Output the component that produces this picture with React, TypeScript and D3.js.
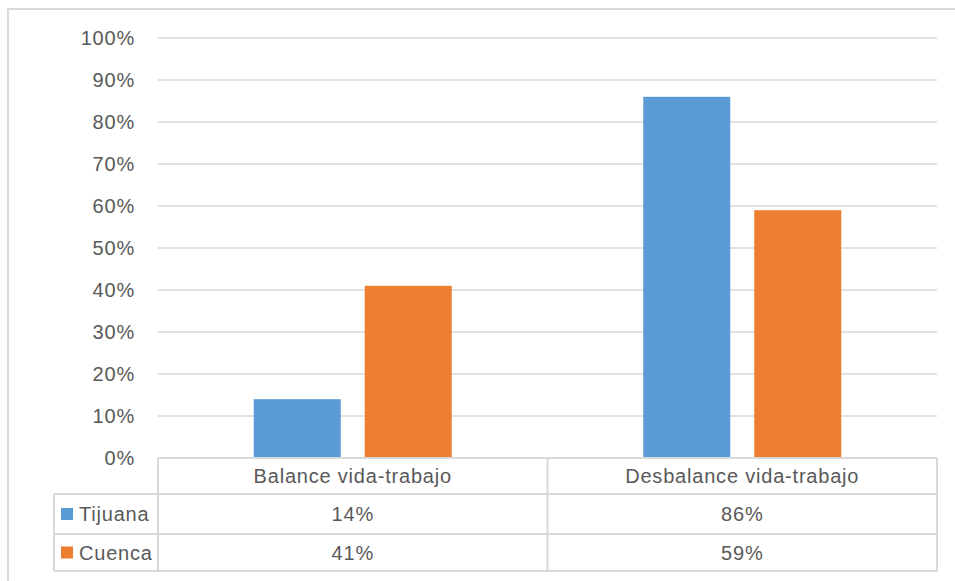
import React from "react";
import * as d3 from "d3";

const categories = ["Balance vida-trabajo", "Desbalance vida-trabajo"];
const seriesNames = ["Tijuana", "Cuenca"];
const tijuanaValues = [0.14, 0.86];
const cuencaValues = [0.41, 0.59];
const seriesColors = ["#5b9bd5", "#ed7d31"];
const yTicks = [0, 0.1, 0.2, 0.3, 0.4, 0.5, 0.6, 0.7, 0.8, 0.9, 1.0];

const W = 955;
const H = 581;
const plotLeft = 158;
const plotRight = 937;
const plotTop = 38;
const plotBottom = 458;
const tableLeft = 54;
const rowLines = [494, 534, 571];

const FONT = "'Liberation Sans', Arial, sans-serif";
const TEXT = "#595959";
const GRID = "#d9d9d9";

export default function App() {
  const values = [tijuanaValues, cuencaValues];
  const x0 = d3.scaleBand<string>().domain(categories).range([plotLeft, plotRight]).paddingInner(0).paddingOuter(0);
  const x1 = d3
    .scaleBand<string>()
    .domain(seriesNames)
    .range([0, x0.bandwidth()])
    .paddingInner(0.216)
    .paddingOuter(0.8626);
  const y = d3.scaleLinear().domain([0, 1]).range([plotBottom, plotTop]);
  const fmt = d3.format(".0%");

  const textStyle = { fontFamily: FONT, fontSize: 20, fill: TEXT, letterSpacing: 0.8 } as const;

  return (
    <svg width={W} height={H} style={{ position: "absolute", left: 0, top: 0, background: "#fff" }}>
      <rect x={0} y={0} width={W} height={H} fill="#fff" />
      <rect x={8} y={9} width={1000} height={700} fill="none" stroke={GRID} strokeWidth={2} />
      {yTicks.map((t) => (
        <g key={t}>
          <line x1={plotLeft} x2={plotRight} y1={y(t)} y2={y(t)} stroke={GRID} strokeWidth={1.5} />
          <text x={135} y={y(t)} dy="0.35em" textAnchor="end" style={textStyle}>
            {fmt(t)}
          </text>
        </g>
      ))}
      {categories.map((c, ci) =>
        seriesNames.map((s, si) => {
          const v = values[si][ci];
          return (
            <rect
              key={c + s}
              x={(x0(c) ?? 0) + (x1(s) ?? 0)}
              y={y(v)}
              width={x1.bandwidth()}
              height={y(0) - y(v)}
              fill={seriesColors[si]}
            />
          );
        })
      )}
      {/* table */}
      <g stroke={GRID} strokeWidth={2} fill="none">
        <line x1={plotLeft} x2={plotRight} y1={plotBottom} y2={plotBottom} />
        {rowLines.map((ry) => (
          <line key={ry} x1={tableLeft} x2={plotRight} y1={ry} y2={ry} />
        ))}
        <line x1={tableLeft} x2={tableLeft} y1={rowLines[0]} y2={rowLines[2]} />
        {[plotLeft, (x0(categories[1]) ?? 0), plotRight].map((vx) => (
          <line key={vx} x1={vx} x2={vx} y1={plotBottom} y2={rowLines[2]} />
        ))}
      </g>
      {categories.map((c) => {
        const cx = (x0(c) ?? 0) + x0.bandwidth() / 2;
        return (
          <text key={c} x={cx} y={(plotBottom + rowLines[0]) / 2} dy="0.35em" textAnchor="middle" style={textStyle}>
            {c}
          </text>
        );
      })}
      {seriesNames.map((s, si) => {
        const top = rowLines[si];
        const bottom = rowLines[si + 1];
        const cy = (top + bottom) / 2;
        return (
          <g key={s}>
            <rect x={61} y={cy - 6} width={12} height={12} fill={seriesColors[si]} />
            <text x={79} y={cy} dy="0.35em" style={textStyle}>
              {s}
            </text>
            {categories.map((c, ci) => (
              <text
                key={c}
                x={(x0(c) ?? 0) + x0.bandwidth() / 2}
                y={cy}
                dy="0.35em"
                textAnchor="middle"
                style={textStyle}
              >
                {fmt(values[si][ci])}
              </text>
            ))}
          </g>
        );
      })}
    </svg>
  );
}
